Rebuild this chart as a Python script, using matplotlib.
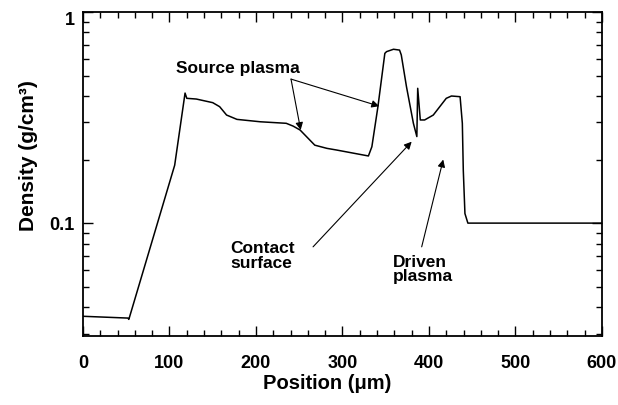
import matplotlib
matplotlib.use("Agg")
import matplotlib.pyplot as plt
from matplotlib.ticker import MultipleLocator, LogLocator, FixedLocator, NullFormatter

plt.rcParams["font.family"] = ["Liberation Sans", "DejaVu Sans"]
plt.rcParams["font.weight"] = "bold"

# density profile
position = [0, 52, 53, 106, 118, 120, 131, 150, 158, 166, 178, 205, 235, 243,
            251, 268, 282, 293, 330, 334, 341, 349, 351, 359, 366, 368, 374,
            382, 386, 387, 390, 395, 405, 420, 426, 436, 438.6, 439.7, 441.6,
            445, 450, 600]
density = [0.0362, 0.0355, 0.035, 0.188, 0.413, 0.39, 0.387, 0.372, 0.356,
           0.325, 0.31, 0.302, 0.297, 0.288, 0.276, 0.234, 0.226, 0.222, 0.208,
           0.23, 0.356, 0.637, 0.649, 0.666, 0.66, 0.626, 0.443, 0.297, 0.257,
           0.435, 0.308, 0.308, 0.325, 0.39, 0.4, 0.397, 0.297, 0.178, 0.111,
           0.1, 0.1, 0.1]

x_ticks = [0, 100, 200, 300, 400, 500, 600]
y_ticks = [0.1, 1]
y_tick_labels = ["0.1", "1"]

fig = plt.figure(figsize=(6.18, 4.05), dpi=100)
ax = fig.add_axes([0.1343, 0.1704, 0.8397, 0.8])

ax.plot(position, density, color="black", linewidth=1.1)

ax.set_yscale("log")
ax.set_xlim(0, 600)
ax.set_ylim(0.0292, 1)

ax.set_xticks(x_ticks)
ax.xaxis.set_minor_locator(MultipleLocator(20))
ax.yaxis.set_major_locator(FixedLocator(y_ticks))
ax.set_yticklabels(y_tick_labels)
ax.yaxis.set_minor_locator(LogLocator(base=10, subs=range(2, 10)))
ax.yaxis.set_minor_formatter(NullFormatter())

ax.tick_params(which="both", direction="in", top=True, right=True,
               labelsize=13, width=1)
ax.tick_params(which="major", length=7, pad=14)
ax.tick_params(which="minor", length=4)
ax.tick_params(axis="y", which="major", pad=6)
ax.yaxis.get_major_ticks()[1].label1.set_verticalalignment("top")
for s in ax.spines.values():
    s.set_linewidth(1.3)

ax.set_xlabel("Position (\u03bcm)", fontsize=14.5, fontweight="bold",
              labelpad=1, x=0.47)
ax.set_ylabel("Density (g/cm\u00b3)", fontsize=15, fontweight="bold",
              labelpad=8, y=0.556)

arrow = dict(arrowstyle="-|>", color="black", lw=0.8,
             mutation_scale=11, shrinkA=0, shrinkB=0)

ax.text(179, 0.54, "Source plasma", fontsize=12.5, fontweight="bold",
        ha="center", va="center")
ax.annotate("", xy=(251.7, 0.276), xytext=(240.5, 0.481), arrowprops=arrow)
ax.annotate("", xy=(342.5, 0.358), xytext=(240.5, 0.481), arrowprops=arrow)

ax.text(170, 0.0698, "Contact\nsurface", fontsize=12.5, fontweight="bold",
        ha="left", va="center", linespacing=0.95)
ax.annotate("", xy=(380, 0.243), xytext=(266, 0.0772), arrowprops=arrow)

ax.text(358, 0.0602, "Driven\nplasma", fontsize=12.5, fontweight="bold",
        ha="left", va="center", linespacing=0.95)
ax.annotate("", xy=(416.5, 0.2), xytext=(391.6, 0.0772), arrowprops=arrow)

fig.savefig("out.png", dpi=100)
